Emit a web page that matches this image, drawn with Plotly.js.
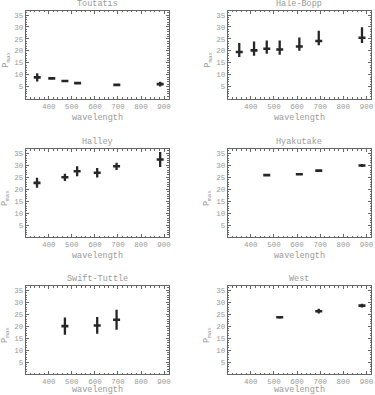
<!DOCTYPE html>
<html>
<head>
<meta charset="utf-8">
<script src="https://cdn.plot.ly/plotly-3.0.1.min.js"></script>
<style>html,body{margin:0;padding:0;background:#fff;}#chart{width:375px;height:395px;}</style>
</head>
<body>
<div id="chart"></div>
<script>
// ---- data ----
const cometNames = ["Toutatis", "Hale-Bopp", "Halley", "Hyakutake", "Swift-Tuttle", "West"];

const toutatisWl = [350, 413, 470, 525, 695, 883];
const toutatisP = [8.9, 8.5, 7.4, 6.5, 5.8, 6.1];
const toutatisErrUp = [1.7, 0.4, 0.4, 0.4, 0.3, 1.0];
const toutatisErrDn = [1.7, 0.4, 0.4, 0.4, 0.3, 1.0];

const haleBoppWl = [350, 414, 469, 525, 610, 694, 881];
const haleBoppP = [19.5, 20.2, 20.9, 20.6, 21.8, 24.1, 25.5];
const haleBoppErrUp = [3.8, 3.7, 3.4, 3.7, 3.8, 4.3, 4.4];
const haleBoppErrDn = [2.1, 2.2, 2.1, 2.2, 1.7, 1.8, 2.2];

const halleyWl = [349, 470, 523, 610, 694, 883];
const halleyP = [22.7, 25.0, 27.5, 26.9, 29.6, 32.4];
const halleyErrUp = [2.1, 1.5, 2.1, 2.0, 1.5, 3.1];
const halleyErrDn = [2.1, 1.5, 2.1, 2.0, 1.5, 3.1];

const hyakutakeWl = [469, 610, 694, 881];
const hyakutakeP = [25.9, 26.3, 27.8, 29.9];
const hyakutakeErrUp = [0.3, 0.3, 0.3, 0.6];
const hyakutakeErrDn = [0.3, 0.3, 0.3, 0.6];

const swiftTuttleWl = [470, 610, 694];
const swiftTuttleP = [20.0, 20.3, 22.7];
const swiftTuttleErrUp = [3.6, 3.5, 4.2];
const swiftTuttleErrDn = [3.6, 3.5, 4.2];

const westWl = [525, 694, 881];
const westP = [23.75, 26.25, 28.6];
const westErrUp = [0.5, 1.0, 0.8];
const westErrDn = [0.5, 1.0, 0.8];

const xTickVals = [400, 500, 600, 700, 800, 900];
const yTickVals = [5, 10, 15, 20, 25, 30, 35];
const xLabel = "wavelength";
const yLabel = "P<sub>max</sub>";

const series = [
  [toutatisWl, toutatisP, toutatisErrUp, toutatisErrDn],
  [haleBoppWl, haleBoppP, haleBoppErrUp, haleBoppErrDn],
  [halleyWl, halleyP, halleyErrUp, halleyErrDn],
  [hyakutakeWl, hyakutakeP, hyakutakeErrUp, hyakutakeErrDn],
  [swiftTuttleWl, swiftTuttleP, swiftTuttleErrUp, swiftTuttleErrDn],
  [westWl, westP, westErrUp, westErrDn]
];

// ---- layout geometry ----
const W = 375, H = 395;
const colX = [[25.7, 168.7], [227.7, 371]];
const rowY = [[10.7, 98.7], [149, 237.3], [286, 374]];

const font = "Liberation Mono, Courier New, monospace";
const textColor = "#9a9a9a";
const frameColor = "#666";
const markColor = "#262626";

const traces = [];
const layout = {
  width: W, height: H,
  margin: {l: 0, r: 0, t: 0, b: 0},
  paper_bgcolor: "#fff", plot_bgcolor: "#fff",
  showlegend: false,
  font: {family: font, size: 8, color: textColor},
  annotations: []
};

series.forEach((s, i) => {
  const r = Math.floor(i / 2), c = i % 2;
  const n = i + 1;
  const xa = "xaxis" + (n === 1 ? "" : n);
  const ya = "yaxis" + (n === 1 ? "" : n);
  const xr = "x" + (n === 1 ? "" : n);
  const yr = "y" + (n === 1 ? "" : n);
  traces.push({
    type: "scatter", mode: "markers",
    x: s[0], y: s[1], xaxis: xr, yaxis: yr,
    marker: {symbol: "line-ew", size: 5, line: {width: 2.6, color: markColor}, color: markColor},
    error_y: {type: "data", symmetric: false, array: s[2], arrayminus: s[3],
              thickness: 2.3, width: 0, color: markColor},
    hoverinfo: "skip"
  });
  const dx = [colX[c][0] / W, colX[c][1] / W];
  const dy = [1 - rowY[r][1] / H, 1 - rowY[r][0] / H];
  layout[xa] = {
    domain: dx, anchor: yr, range: [300, 920],
    tickvals: xTickVals, ticktext: xTickVals.map(String),
    ticks: "inside", ticklen: 3, tickwidth: 1, tickcolor: frameColor,
    minor: {ticks: "inside", ticklen: 1.5, tickwidth: 1, tickcolor: frameColor, dtick: 20, tick0: 300},
    showline: true, linecolor: frameColor, linewidth: 1, mirror: "allticks",
    showgrid: false, zeroline: false, fixedrange: true,
    tickfont: {family: font, size: 7.5, color: textColor}
  };
  layout[ya] = {
    domain: dy, anchor: xr, range: [0, 36.8],
    tickvals: yTickVals, ticktext: yTickVals.map(String),
    ticks: "inside", ticklen: 3, tickwidth: 1, tickcolor: frameColor,
    minor: {ticks: "inside", ticklen: 1.5, tickwidth: 1, tickcolor: frameColor, dtick: 1, tick0: 0},
    showline: true, linecolor: frameColor, linewidth: 1, mirror: "allticks",
    showgrid: false, zeroline: false, fixedrange: true,
    tickfont: {family: font, size: 7.5, color: textColor}
  };
  // subplot title
  layout.annotations.push({
    text: cometNames[i], xref: "paper", yref: "paper",
    x: (dx[0] + dx[1]) / 2, y: dy[1], xanchor: "center", yanchor: "bottom",
    yshift: 0, showarrow: false, font: {family: font, size: 8.5, color: textColor}
  });
  // x axis title
  layout.annotations.push({
    text: xLabel, xref: "paper", yref: "paper",
    x: (dx[0] + dx[1]) / 2, y: dy[0], xanchor: "center", yanchor: "top",
    yshift: r === 2 ? -9 : -12, showarrow: false, font: {family: font, size: 8.5, color: textColor}
  });
  // y axis title
  layout.annotations.push({
    text: yLabel, xref: "paper", yref: "paper",
    x: dx[0], y: (dy[0] + dy[1]) / 2 - 0.012, xanchor: "right", yanchor: "middle",
    xshift: -12, textangle: -90, showarrow: false, font: {family: font, size: 8.5, color: textColor}
  });
});

Plotly.newPlot("chart", traces, layout, {displayModeBar: false, staticPlot: true});
</script>
</body>
</html>
